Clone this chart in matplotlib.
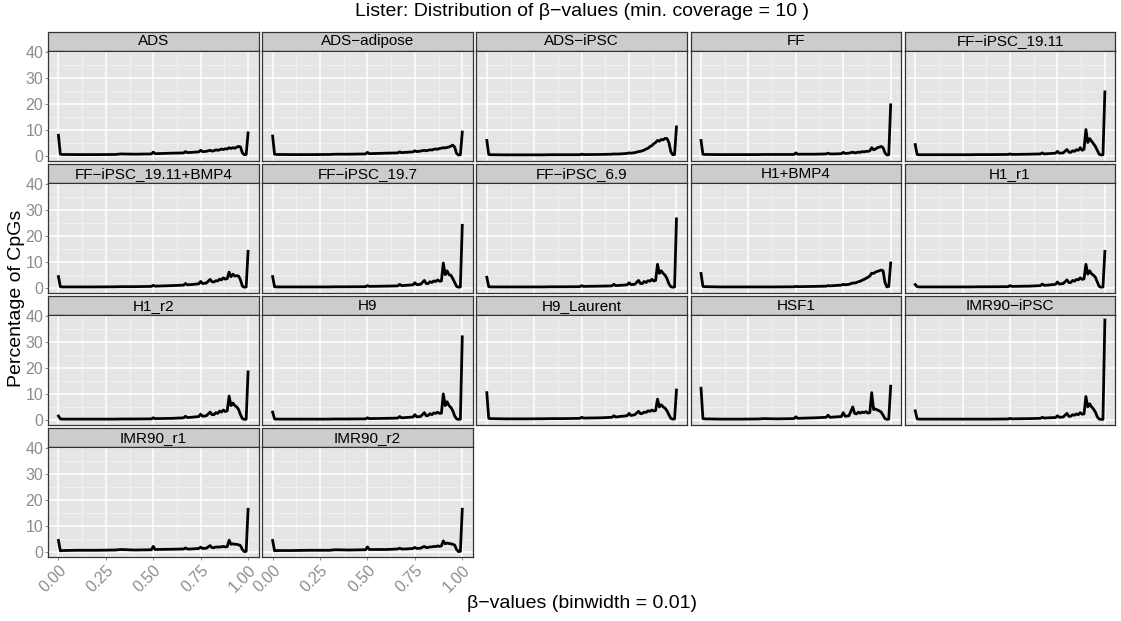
import matplotlib
matplotlib.use('Agg')
import matplotlib.pyplot as plt
from matplotlib.ticker import MultipleLocator

plt.rcParams['font.family'] = ['Liberation Sans', 'DejaVu Sans']

# bin centres (dense where the curves move)
beta = [0.00, 0.01, 0.02, 0.10, 0.20, 0.30, 0.33, 0.40, 0.49, 0.50,
        0.51, 0.60, 0.66, 0.67, 0.68, 0.70, 0.74, 0.75, 0.76, 0.78,
        0.80, 0.81, 0.82, 0.83, 0.84, 0.85, 0.86, 0.87, 0.88, 0.89,
        0.90, 0.91, 0.92, 0.93, 0.94, 0.95, 0.96, 0.97, 0.98, 0.99, 1.00]

samples = ['ADS', 'ADS−adipose', 'ADS−iPSC', 'FF', 'FF−iPSC_19.11',
           'FF−iPSC_19.11+BMP4', 'FF−iPSC_19.7', 'FF−iPSC_6.9', 'H1+BMP4', 'H1_r1',
           'H1_r2', 'H9', 'H9_Laurent', 'HSF1', 'IMR90−iPSC',
           'IMR90_r1', 'IMR90_r2']

ads = [7.8, 0.5, 0.4, 0.35, 0.35, 0.4, 0.6, 0.5, 0.6, 1.3,
       0.7, 0.9, 1.0, 1.5, 1.1, 1.2, 1.4, 2.0, 1.5, 1.6,
       2.0, 1.7, 1.8, 2.2, 2.0, 2.2, 2.5, 2.3, 2.6, 2.5,
       3.0, 2.7, 3.0, 2.8, 3.2, 3.5, 3.3, 1.0, 0.3, 0.4, 8.7]
ads_adipose = [7.5, 0.5, 0.4, 0.35, 0.35, 0.4, 0.5, 0.5, 0.6, 1.2,
               0.7, 0.9, 1.0, 1.4, 1.1, 1.2, 1.4, 1.8, 1.5, 1.7,
               2.0, 1.8, 2.0, 2.2, 2.1, 2.4, 2.5, 2.4, 2.7, 2.8,
               3.0, 2.9, 3.1, 3.3, 3.6, 4.0, 3.2, 0.8, 0.2, 0.3, 9.0]
ads_ipsc = [5.8, 0.4, 0.3, 0.25, 0.25, 0.25, 0.3, 0.3, 0.3, 0.5,
            0.35, 0.4, 0.5, 0.6, 0.55, 0.6, 0.8, 1.0, 0.9, 1.1,
            1.5, 1.6, 1.8, 2.1, 2.5, 2.8, 3.4, 3.8, 4.5, 5.0,
            5.8, 5.5, 6.2, 6.0, 6.6, 6.5, 5.0, 1.5, 0.3, 0.4, 11.0]
ff = [5.8, 0.5, 0.4, 0.35, 0.35, 0.35, 0.4, 0.4, 0.4, 1.0,
      0.5, 0.5, 0.6, 0.9, 0.6, 0.6, 0.7, 1.2, 0.8, 0.9,
      1.3, 1.0, 1.1, 1.3, 1.2, 1.5, 1.4, 1.6, 1.6, 1.8,
      3.0, 2.2, 2.5, 3.0, 3.2, 3.5, 3.0, 1.0, 0.2, 0.3, 19.5]
ff_19_11 = [4.2, 0.4, 0.3, 0.3, 0.3, 0.3, 0.35, 0.35, 0.4, 0.6,
            0.4, 0.5, 0.6, 1.0, 0.6, 0.7, 0.9, 1.6, 0.9, 1.0,
            2.3, 1.3, 1.2, 1.8, 1.6, 2.2, 2.0, 3.0, 2.0, 2.4,
            10.0, 5.0, 6.5, 5.5, 4.5, 3.5, 2.0, 0.5, 0.2, 0.3, 24.5]
ff_19_11_bmp4 = [4.3, 0.4, 0.3, 0.3, 0.3, 0.35, 0.4, 0.4, 0.5, 0.9,
                 0.6, 0.8, 1.0, 1.6, 1.1, 1.2, 1.5, 2.4, 1.6, 1.8,
                 3.2, 2.3, 2.2, 2.7, 2.6, 3.3, 3.0, 3.8, 3.3, 3.5,
                 6.0, 4.2, 5.2, 4.5, 4.6, 4.5, 3.0, 0.6, 0.2, 0.3, 14.0]
ff_19_7 = [4.3, 0.4, 0.3, 0.3, 0.3, 0.3, 0.35, 0.35, 0.4, 0.8,
           0.5, 0.6, 0.7, 1.3, 0.8, 0.9, 1.1, 1.9, 1.2, 1.3,
           2.8, 1.6, 1.6, 2.3, 2.0, 2.6, 2.4, 3.0, 2.5, 2.6,
           9.5, 5.0, 6.5, 5.0, 4.8, 3.5, 2.0, 0.5, 0.2, 0.3, 24.0]
ff_6_9 = [4.0, 0.4, 0.3, 0.3, 0.3, 0.3, 0.35, 0.35, 0.4, 0.8,
          0.5, 0.6, 0.7, 1.3, 0.8, 0.9, 1.1, 1.9, 1.2, 1.3,
          2.8, 1.6, 1.6, 2.4, 2.0, 2.7, 2.5, 3.2, 2.6, 2.8,
          9.0, 5.5, 6.5, 5.5, 4.8, 3.5, 1.5, 0.4, 0.2, 0.3, 26.5]
h1_bmp4 = [5.5, 0.5, 0.4, 0.3, 0.3, 0.3, 0.3, 0.3, 0.35, 0.5,
           0.4, 0.5, 0.6, 0.8, 0.7, 0.8, 1.0, 1.3, 1.1, 1.3,
           1.8, 1.8, 2.0, 2.3, 2.5, 2.9, 3.2, 3.6, 4.0, 4.5,
           5.6, 5.5, 6.0, 6.3, 6.5, 6.8, 6.5, 2.0, 0.3, 0.5, 9.5]
h1_r1 = [1.2, 0.4, 0.3, 0.3, 0.3, 0.3, 0.35, 0.35, 0.4, 0.8,
         0.5, 0.6, 0.8, 1.4, 0.9, 1.0, 1.3, 2.2, 1.4, 1.6,
         3.0, 2.0, 2.0, 2.8, 2.5, 3.2, 3.0, 3.8, 3.2, 3.4,
         9.0, 5.2, 6.5, 5.3, 4.8, 4.0, 2.2, 0.5, 0.2, 0.3, 14.0]
h1_r2 = [1.5, 0.4, 0.3, 0.3, 0.3, 0.3, 0.35, 0.35, 0.4, 0.8,
         0.5, 0.6, 0.8, 1.4, 0.9, 1.0, 1.3, 2.2, 1.4, 1.6,
         3.0, 2.0, 2.0, 2.8, 2.5, 3.4, 3.0, 3.8, 3.2, 3.5,
         9.2, 5.5, 6.5, 5.5, 5.0, 4.0, 2.0, 0.5, 0.2, 0.3, 18.5]
h9 = [3.0, 0.4, 0.3, 0.3, 0.3, 0.3, 0.35, 0.35, 0.4, 0.8,
      0.5, 0.6, 0.7, 1.3, 0.8, 0.9, 1.1, 2.0, 1.2, 1.3,
      2.8, 1.6, 1.7, 2.4, 2.0, 2.7, 2.5, 3.0, 2.5, 2.6,
      10.0, 5.5, 7.0, 5.5, 4.8, 3.5, 1.5, 0.4, 0.2, 0.3, 32.0]
h9_laurent = [10.5, 0.6, 0.5, 0.4, 0.4, 0.45, 0.5, 0.5, 0.6, 1.0,
              0.7, 0.8, 1.0, 1.6, 1.1, 1.3, 1.6, 2.5, 1.7, 2.0,
              3.3, 2.4, 2.5, 3.0, 2.9, 3.5, 3.3, 3.8, 3.4, 3.6,
              8.0, 5.0, 5.8, 5.0, 4.5, 3.5, 2.0, 0.6, 0.3, 0.4, 11.5]
hsf1 = [12.2, 0.5, 0.4, 0.3, 0.3, 0.35, 0.5, 0.4, 0.5, 1.2,
        0.6, 0.8, 1.0, 1.8, 1.0, 1.1, 1.3, 2.8, 1.4, 1.6,
        5.0, 2.5, 2.3, 3.0, 2.6, 3.0, 2.8, 3.2, 2.6, 2.8,
        10.5, 4.0, 4.2, 3.8, 3.5, 3.0, 1.8, 0.5, 0.2, 0.3, 13.0]
imr90_ipsc = [3.5, 0.4, 0.3, 0.3, 0.3, 0.3, 0.3, 0.3, 0.35, 0.6,
              0.4, 0.5, 0.6, 1.0, 0.7, 0.8, 0.9, 1.6, 1.0, 1.1,
              2.5, 1.4, 1.4, 2.0, 1.8, 2.3, 2.0, 2.8, 2.2, 2.3,
              9.0, 5.0, 6.2, 5.0, 4.2, 3.0, 1.2, 0.3, 0.2, 0.2, 38.5]
imr90_r1 = [4.5, 0.5, 0.6, 0.7, 0.7, 0.8, 1.0, 0.8, 0.9, 2.2,
            1.0, 1.1, 1.2, 1.6, 1.2, 1.2, 1.4, 1.9, 1.4, 1.5,
            2.5, 1.7, 1.7, 2.0, 1.9, 2.0, 2.0, 2.2, 2.0, 2.1,
            4.6, 3.0, 3.2, 3.0, 3.0, 2.8, 2.5, 1.0, 0.2, 0.3, 16.5]
imr90_r2 = [4.5, 0.5, 0.6, 0.6, 0.7, 0.7, 0.9, 0.8, 0.9, 2.0,
            1.0, 1.0, 1.2, 1.5, 1.2, 1.2, 1.4, 1.8, 1.4, 1.5,
            2.2, 1.7, 1.8, 2.0, 2.0, 2.2, 2.1, 2.4, 2.2, 2.4,
            4.3, 3.2, 3.5, 3.3, 3.2, 3.0, 2.7, 1.0, 0.2, 0.3, 16.5]

pct = [ads, ads_adipose, ads_ipsc, ff, ff_19_11,
       ff_19_11_bmp4, ff_19_7, ff_6_9, h1_bmp4, h1_r1,
       h1_r2, h9, h9_laurent, hsf1, imr90_ipsc,
       imr90_r1, imr90_r2]

xticks = [0.0, 0.25, 0.5, 0.75, 1.0]
xlabels = ['0.00', '0.25', '0.50', '0.75', '1.00']
yticks = [0, 10, 20, 30, 40]

W, H = 1121, 621
ncol, nrow = 5, 4
left, col_w, col_step = 48, 210.5, 214.2
top, strip_h, panel_h, row_step = 31.7, 18.8, 110.0, 132.2

ymax = max(max(p) for p in pct)
ylim = (-0.05 * ymax, ymax * 1.05)
xlim = (-0.055, 1.055)
border = '#333333'
tickcol = '#8C8C8C'


def box(x, y, w, h):
    return [x / W, 1 - (y + h) / H, w / W, h / H]


fig = plt.figure(figsize=(W / 100, H / 100), dpi=100)

for i, name in enumerate(samples):
    r, c = divmod(i, ncol)
    x0 = left + c * col_step
    y0 = top + r * row_step

    sax = fig.add_axes(box(x0, y0, col_w, strip_h))
    sax.set_facecolor('#CCCCCC')
    sax.set_xticks([])
    sax.set_yticks([])
    for s in sax.spines.values():
        s.set_color(border)
        s.set_linewidth(0.9)
    sax.text(0.5, 0.48, name, ha='center', va='center', fontsize=11,
             color='black', transform=sax.transAxes)

    ax = fig.add_axes(box(x0, y0 + strip_h, col_w, panel_h))
    ax.set_facecolor('#E5E5E5')
    ax.set_axisbelow(True)
    ax.plot(beta, pct[i], color='black', lw=2.0, solid_joinstyle='round')
    ax.set_xlim(xlim)
    ax.set_ylim(ylim)
    ax.set_xticks(xticks)
    ax.set_yticks(yticks)
    ax.xaxis.set_minor_locator(MultipleLocator(0.125))
    ax.yaxis.set_minor_locator(MultipleLocator(5))
    ax.grid(which='major', color='white', lw=1.1)
    ax.grid(which='minor', color='#F2F2F2', lw=0.6)
    for s in ax.spines.values():
        s.set_color(border)
        s.set_linewidth(0.9)
    ax.tick_params(which='minor', length=0)
    ax.tick_params(which='major', length=2, width=0.7, color=tickcol,
                   labelcolor=tickcol, labelsize=11.5, pad=1.5)

    if c == 0:
        ax.set_yticklabels([str(v) for v in yticks])
    else:
        ax.tick_params(axis='y', length=0, labelleft=False)

    if r == nrow - 1:
        ax.set_xticklabels(xlabels, rotation=45, ha='right', va='top',
                           rotation_mode='anchor')
        ax.tick_params(axis='x', pad=2)
    else:
        ax.tick_params(axis='x', length=0, labelbottom=False)

panels_mid_x = (left + (ncol - 1) * col_step + col_w + left) / 2 / W
fig.text(panels_mid_x, 1 - 12 / H, 'Lister: Distribution of β−values (min. coverage = 10 )',
         ha='center', va='center', fontsize=14)
fig.text(panels_mid_x, 1 - 604 / H, 'β−values (binwidth = 0.01)',
         ha='center', va='center', fontsize=14)
fig.text(17 / W, 1 - 298 / H, 'Percentage of CpGs', rotation=90,
         ha='center', va='center', fontsize=14)

fig.savefig('out.png', dpi=100)
